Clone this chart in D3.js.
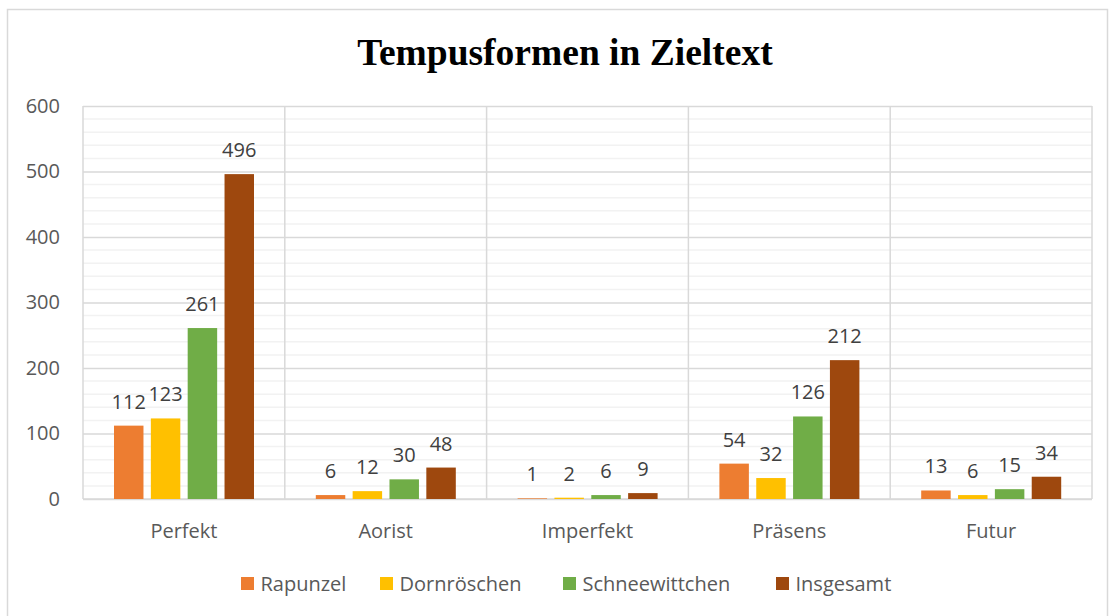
<!DOCTYPE html>
<html>
<head>
<meta charset="utf-8">
<script src="https://cdn.jsdelivr.net/npm/d3@7"></script>
<style>
  body { margin: 0; background: #fff; }
  svg { display: block; }
</style>
</head>
<body>
<svg></svg>
<script>
// data
let categories = ['Perfekt', 'Aorist', 'Imperfekt', 'Präsens', 'Futur']
let seriesNames = ['Rapunzel', 'Dornröschen', 'Schneewittchen', 'Insgesamt']
let rapunzel = [112, 6, 1, 54, 13]
let dornroeschen = [123, 12, 2, 32, 6]
let schneewittchen = [261, 30, 6, 126, 15]
let insgesamt = [496, 48, 9, 212, 34]
let yTicks = [0, 100, 200, 300, 400, 500, 600]
let colors = ['#ED7D31', '#FFC000', '#70AD47', '#9E480E']

let seriesValues = [rapunzel, dornroeschen, schneewittchen, insgesamt]

let width = 1109
let height = 616
let plot = { left: 83, right: 1092, top: 106, bottom: 499 }
let font = "'Open Sans', sans-serif"

let svg = d3.select('svg')
    .attr('width', width)
    .attr('height', height)

// outer chart border
svg.append('rect')
    .attr('x', 7.5).attr('y', 9.5)
    .attr('width', 1100).attr('height', 620)
    .attr('fill', '#fff')
    .attr('stroke', '#d9d9d9')
    .attr('stroke-width', 1.5)

let xScale = d3.scaleBand()
    .domain(categories)
    .range([plot.left, plot.right])

// bars sit 31px in from the band start, ~29px wide with ~7px gaps
let groupScale = d3.scaleBand()
    .domain(seriesNames)
    .range([31, 171])
    .paddingInner(0.2)

let yScale = d3.scaleLinear()
    .domain([0, 600])
    .range([plot.bottom, plot.top])

// minor gridlines every 20
let minor = d3.range(0, 601, 20).filter(v => v % 100 !== 0)
svg.append('g')
    .selectAll('line')
    .data(minor)
    .enter()
    .append('line')
    .attr('x1', plot.left).attr('x2', plot.right)
    .attr('y1', d => yScale(d)).attr('y2', d => yScale(d))
    .attr('stroke', '#f2f2f2')
    .attr('stroke-width', 1.5)

// major gridlines
let yAxis = d3.axisLeft(yScale)
    .tickValues(yTicks)
    .tickSize(-(plot.right - plot.left))
    .tickPadding(23)
svg.append('g')
    .attr('id', 'y-axis')
    .attr('transform', 'translate(' + plot.left + ',0)')
    .call(yAxis)
    .call(g => g.select('.domain').remove())
    .call(g => g.selectAll('line').attr('stroke', '#d9d9d9').attr('stroke-width', 1.5))
    .call(g => g.selectAll('text')
        .attr('fill', '#595959')
        .style('font-family', font)
        .style('font-size', '20px'))

// vertical separators between categories
let bounds = categories.map(c => xScale(c)).concat([plot.right])
svg.append('g')
    .selectAll('line')
    .data(bounds)
    .enter()
    .append('line')
    .attr('x1', d => d).attr('x2', d => d)
    .attr('y1', plot.top).attr('y2', plot.bottom)
    .attr('stroke', '#d9d9d9')
    .attr('stroke-width', 1.5)

// bottom axis line
svg.append('line')
    .attr('x1', plot.left).attr('x2', plot.right)
    .attr('y1', plot.bottom).attr('y2', plot.bottom)
    .attr('stroke', '#d9d9d9')
    .attr('stroke-width', 1.5)

// category labels
let xAxis = d3.axisBottom(xScale).tickSize(0).tickPadding(25)
svg.append('g')
    .attr('id', 'x-axis')
    .attr('transform', 'translate(0,' + plot.bottom + ')')
    .call(xAxis)
    .call(g => g.select('.domain').remove())
    .call(g => g.selectAll('text')
        .attr('fill', '#595959')
        .style('font-family', font)
        .style('font-size', '20px'))

// bars
let groups = svg.append('g')
    .selectAll('g')
    .data(seriesNames)
    .enter()
    .append('g')
    .attr('fill', (s, i) => colors[i])

groups.selectAll('rect')
    .data((s, i) => seriesValues[i].map((v, j) => ({ s: s, c: categories[j], v: v })))
    .enter()
    .append('rect')
    .attr('x', d => xScale(d.c) + groupScale(d.s))
    .attr('width', groupScale.bandwidth())
    .attr('y', d => yScale(d.v))
    .attr('height', d => yScale(0) - yScale(d.v))

// value labels
groups.selectAll('text')
    .data((s, i) => seriesValues[i].map((v, j) => ({ s: s, c: categories[j], v: v })))
    .enter()
    .append('text')
    .attr('x', d => xScale(d.c) + groupScale(d.s) + groupScale.bandwidth() / 2)
    .attr('y', d => yScale(d.v) - 17)
    .attr('text-anchor', 'middle')
    .attr('fill', '#404040')
    .style('font-family', font)
    .style('font-size', '20px')
    .text(d => d.v)

// title
svg.append('text')
    .attr('x', 565)
    .attr('y', 65)
    .attr('text-anchor', 'middle')
    .attr('fill', '#000')
    .style('font-family', "'Liberation Serif', 'Times New Roman', serif")
    .style('font-weight', 'bold')
    .style('font-size', '37.5px')
    .text('Tempusformen in Zieltext')

// legend
let legendX = [241, 380, 563, 776]
let legend = svg.append('g')
    .selectAll('g')
    .data(seriesNames)
    .enter()
    .append('g')
    .attr('transform', (s, i) => 'translate(' + legendX[i] + ',577)')
legend.append('rect')
    .attr('width', 13).attr('height', 13)
    .attr('fill', (s, i) => colors[i])
legend.append('text')
    .attr('x', 19.5)
    .attr('y', 14)
    .attr('fill', '#595959')
    .style('font-family', font)
    .style('font-size', '20px')
    .text(s => s)
</script>
</body>
</html>
